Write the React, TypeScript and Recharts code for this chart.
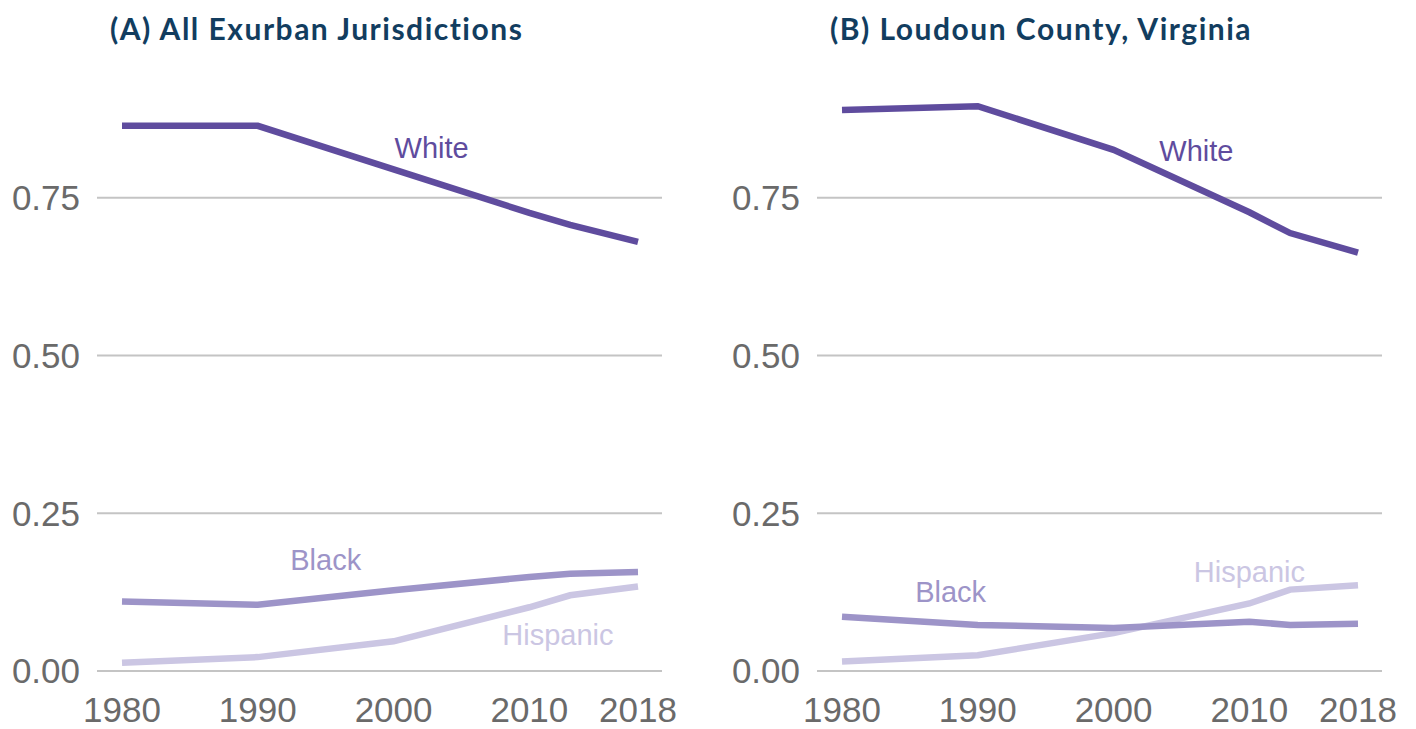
import { CartesianGrid, Line, LineChart, ReferenceDot, ReferenceLine, XAxis, YAxis } from 'recharts';

const years = [1980, 1990, 2000, 2010, 2013, 2018];
const yearTicks = [1980, 1990, 2000, 2010, 2018];
const shareTicks = [0, 0.25, 0.5, 0.75];

const exurbanWhite = [0.864, 0.864, 0.795, 0.726, 0.707, 0.68];
const exurbanBlack = [0.11, 0.105, 0.128, 0.149, 0.154, 0.157];
const exurbanHispanic = [0.013, 0.022, 0.047, 0.101, 0.12, 0.134];

const loudounWhite = [0.889, 0.895, 0.826, 0.727, 0.694, 0.663];
const loudounBlack = [0.086, 0.073, 0.068, 0.078, 0.073, 0.075];
const loudounHispanic = [0.015, 0.025, 0.06, 0.107, 0.129, 0.136];

const WHITE = '#5f4c9e';
const BLACK = '#9d94c8';
const HISPANIC = '#cbc6e3';
const AXIS_FONT = '"Liberation Sans", Arial, sans-serif';

type Tag = { x: number; y: number };

type PanelProps = {
  title: string;
  left: number;
  width: number;
  white: number[];
  black: number[];
  hispanic: number[];
  whiteTag: Tag;
  blackTag: Tag;
  hispanicTag: Tag;
};

function Panel({ title, left, width, white, black, hispanic, whiteTag, blackTag, hispanicTag }: PanelProps) {
  const rows = years.map((year, i) => ({
    year,
    white: white[i],
    black: black[i],
    hispanic: hispanic[i],
  }));

  const tag = (t: Tag, text: string, color: string) => (
    <ReferenceDot
      x={t.x}
      y={t.y}
      r={0}
      fill='none'
      stroke='none'
      label={{ value: text, position: 'center', fill: color, fontSize: 29, fontFamily: AXIS_FONT }}
    />
  );

  return (
    <div style={{ position: 'absolute', left, top: 0, width, height: 729 }}>
      <div
        style={{
          position: 'absolute',
          left: 110,
          top: 13,
          fontFamily: 'Lato, sans-serif',
          fontWeight: 700,
          fontSize: 30,
          letterSpacing: 1.5,
          lineHeight: 1,
          color: '#123d5f',
          whiteSpace: 'nowrap',
        }}
      >
        {title}
      </div>
      <LineChart width={width} height={729} data={rows} margin={{ top: 40, right: width - 662, bottom: 0, left: 0 }}>
        <XAxis
          dataKey='year'
          type='number'
          domain={[1980, 2018]}
          ticks={yearTicks}
          interval={0}
          padding={{ left: 25, right: 24 }}
          axisLine={false}
          tickLine={false}
          tickSize={0}
          tickMargin={26}
          height={58}
          tick={{ fill: '#6a6a6a', fontSize: 35, fontFamily: AXIS_FONT }}
        />
        <YAxis
          type='number'
          domain={[0, 1]}
          ticks={shareTicks}
          tickFormatter={(v) => v.toFixed(2)}
          axisLine={false}
          tickLine={false}
          tickSize={0}
          tickMargin={17}
          width={97}
          tick={{ fill: '#6a6a6a', fontSize: 35, fontFamily: AXIS_FONT }}
        />
        {shareTicks.map((v) => (
          <ReferenceLine key={v} y={v} stroke='#c4c4c4' strokeWidth={2} />
        ))}
        <Line type='linear' dataKey='hispanic' stroke={HISPANIC} strokeWidth={6.5} dot={false} isAnimationActive={false} />
        <Line type='linear' dataKey='black' stroke={BLACK} strokeWidth={6.5} dot={false} isAnimationActive={false} />
        <Line type='linear' dataKey='white' stroke={WHITE} strokeWidth={6.5} dot={false} isAnimationActive={false} />
        {tag(whiteTag, 'White', WHITE)}
        {tag(blackTag, 'Black', BLACK)}
        {tag(hispanicTag, 'Hispanic', HISPANIC)}
      </LineChart>
    </div>
  );
}

export default function App() {
  return (
    <div style={{ position: 'absolute', left: 0, top: 0, width: 1416, height: 729, background: '#fff' }}>
      <Panel
        title='(A) All Exurban Jurisdictions'
        left={0}
        width={720}
        white={exurbanWhite}
        black={exurbanBlack}
        hispanic={exurbanHispanic}
        whiteTag={{ x: 2002.8, y: 0.83 }}
        blackTag={{ x: 1995, y: 0.176 }}
        hispanicTag={{ x: 2012.1, y: 0.058 }}
      />
      <Panel
        title='(B) Loudoun County, Virginia'
        left={720}
        width={696}
        white={loudounWhite}
        black={loudounBlack}
        hispanic={loudounHispanic}
        whiteTag={{ x: 2006.1, y: 0.825 }}
        blackTag={{ x: 1988, y: 0.125 }}
        hispanicTag={{ x: 2010, y: 0.157 }}
      />
    </div>
  );
}
